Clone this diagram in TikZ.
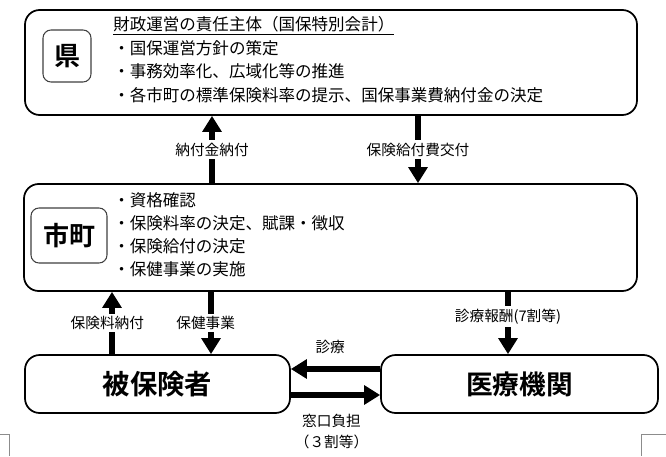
\documentclass[tikz,border=0pt]{standalone}
\usepackage{fontspec}
\setmainfont{Noto Sans CJK JP}[BoldFont={Noto Sans CJK JP Bold}]
\usepackage{tikz}
\usetikzlibrary{arrows.meta,positioning,calc}

\begin{document}
\begin{tikzpicture}[x=0.75pt,y=-0.75pt,
  box/.style={draw,rounded corners=11pt,line width=1.3pt,fill=white},
  tag/.style={draw=black!75,rounded corners=6pt,line width=0.8pt,font=\fontsize{19.5}{22}\selectfont\bfseries},
  info/.style={anchor=north west,inner sep=0pt,align=left,font=\fontsize{12.4}{17.6}\selectfont},
  arr/.style={-{Triangle[length=12pt,width=14pt]},line width=3.8pt},
  lbl/.style={fill=white,inner sep=2pt,font=\fontsize{11}{15.75}\selectfont}
]
\useasboundingbox (0,0) rectangle (666,456);
\node[box,minimum width=459pt,minimum height=78.75pt] (ken) at (331,62.5) {};
\node[tag,minimum width=36pt,minimum height=39pt] (kentag) at (67,56) {県};
\node[info] (kentext) at (113,16.5) {\underline{財政運営の責任主体（国保特別会計）}\\・国保運営方針の策定\\・事務効率化、広域化等の推進\\・各市町の標準保険料率の提示、国保事業費納付金の決定};
\node[box,minimum width=459.75pt,minimum height=80.25pt] (shicho) at (330.5,237.5) {};
\node[tag,minimum width=57pt,minimum height=41.25pt] (shichotag) at (69,235.5) {市町};
\node[info,font=\fontsize{12.4}{17.25}\selectfont] (shichotext) at (113,192.5) {・資格確認\\・保険料率の決定、賦課・徴収\\・保険給付の決定\\・保健事業の実施};
\node[box,minimum width=198.75pt,minimum height=43.5pt,font=\fontsize{20.5}{24}\selectfont\bfseries] (hiho) at (157.5,384) {被保険者};
\node[box,minimum width=207.75pt,minimum height=43.5pt,font=\fontsize{20}{24}\selectfont\bfseries] (iryo) at (519.5,384) {医療機関};
\coordinate (paycol) at (212,0);
\coordinate (grantcol) at (418,0);
\coordinate (premcol) at (112,0);
\coordinate (healthcol) at (211,0);
\coordinate (feecol) at (508,0);
\draw[arr] (paycol |- shicho.north) -- (paycol |- ken.south) node[midway,lbl]{納付金納付};
\draw[arr] (grantcol |- ken.south) -- (grantcol |- shicho.north) node[midway,lbl]{保険給付費交付};
\draw[arr] (premcol |- hiho.north) -- (premcol |- shicho.south) node[midway,lbl,xshift=-3.5pt]{保険料納付};
\draw[arr] (healthcol |- shicho.south) -- (healthcol |- hiho.north) node[midway,lbl,xshift=-4pt]{保健事業};
\draw[arr] (feecol |- shicho.south) -- (feecol |- iryo.north) node[pos=0.4,lbl]{診療報酬(7割等)};
\draw[arr] ([yshift=11.25pt]iryo.west) -- ([yshift=11.25pt]hiho.east) node[midway,yshift=16.5pt,lbl,xshift=-4pt]{診療};
\draw[arr] ([yshift=-8.25pt]hiho.east) -- ([yshift=-8.25pt]iryo.west) node[midway,yshift=-27.4pt,lbl,align=center,xshift=-3pt]{窓口負担\\（３割等）};
\draw[black!45,line width=0.6pt] (0,434) -- (9,434) -- (9,456);
\draw[black!45,line width=0.6pt] (666,434) -- (641,434) -- (641,456);
\end{tikzpicture}
\end{document}
